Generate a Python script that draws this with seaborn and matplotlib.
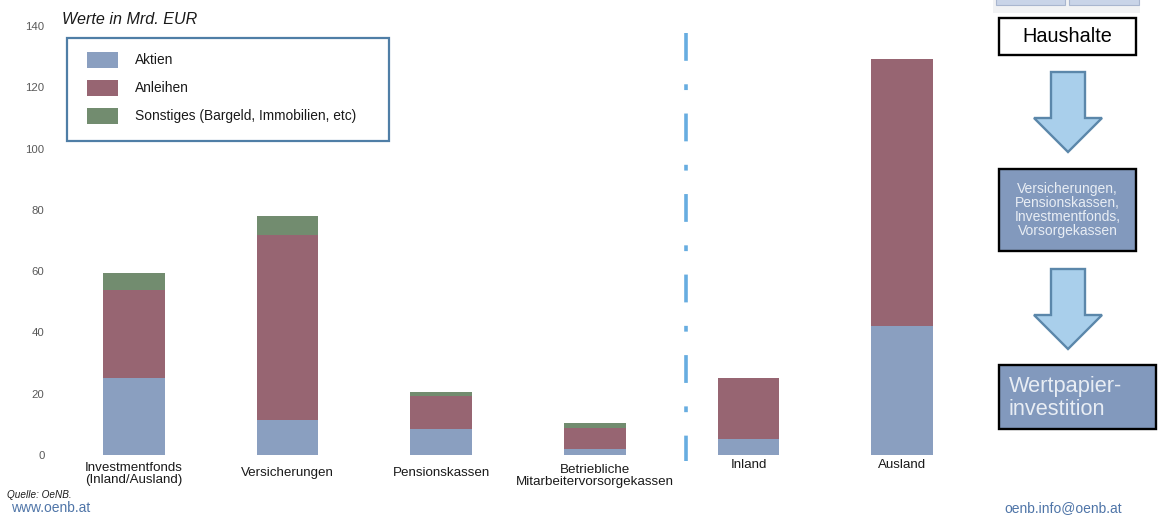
import matplotlib
matplotlib.use("Agg")
import matplotlib.pyplot as plt
from matplotlib.patches import Rectangle, Polygon
import numpy as np
import pandas as pd
import seaborn as sns

categories = ["Investmentfonds\n(Inland/Ausland)", "Versicherungen", "Pensionskassen",
              "Betriebliche\nMitarbeitervorsorgekassen", "Inland", "Ausland"]
aktien = [25.1, 11.4, 8.6, 1.8, 5.2, 42.0]
anleihen = [28.8, 60.4, 10.7, 7.0, 19.8, 87.2]
sonstiges = [5.6, 6.2, 1.4, 1.8, 0.0, 0.0]
series_names = ["Aktien", "Anleihen", "Sonstiges (Bargeld, Immobilien, etc)"]
series_colors = ["#8a9fc0", "#976572", "#728c6f"]
y_ticks = [0, 20, 40, 60, 80, 100, 120, 140]

W, H = 1160, 516
sns.set_theme(style="white")
plt.rcParams["font.family"] = ["Liberation Sans", "DejaVu Sans"]

fig = plt.figure(figsize=(W / 100, H / 100), dpi=100, facecolor="white")


def fx(px):
    return px / W


def fy(py):
    return 1 - py / H


ax = fig.add_axes([fx(57), fy(455), (979 - 57) / W, (455 - 26) / H])
frame = pd.DataFrame({"Kategorie": categories, "Aktien": aktien,
                      "Anleihen": anleihen, "Sonstiges": sonstiges})

# Stacked columns: each layer starts where the previous one ended
bottom = np.zeros(len(categories))
for col, name, colour in zip(["Aktien", "Anleihen", "Sonstiges"], series_names, series_colors):
    sns.barplot(data=frame, x="Kategorie", y=col, color=colour, saturation=1, width=0.403,
                bottom=bottom, ax=ax, label=name, linewidth=0, legend=False)
    bottom = bottom + frame[col].to_numpy()

ax.set_xlim(-0.5, 5.5)
ax.set_ylim(0, 140)
ax.set_xlabel("")
ax.set_ylabel("")
ax.set_yticks(y_ticks)
ax.set_yticklabels([str(v) for v in y_ticks], fontsize=8.2, color="#595959")
ax.tick_params(axis="y", length=0, pad=9)
ax.set_xticks(range(len(categories)))
ax.set_xticklabels([])
ax.tick_params(axis="x", length=0)
for spine in ax.spines.values():
    spine.set_visible(False)
ax.patch.set_alpha(0)

# Category labels sit at slightly different heights under the columns
label_y = [474, 473, 473, 476, 465, 465]
for i, (cat, py) in enumerate(zip(categories, label_y)):
    fig.text(fx(57 + 153.67 * (i + 0.5)), fy(py), cat, ha="center", va="center",
             fontsize=9.6, color="#1a1a1a", linespacing=1.05)

fig.text(fx(62), fy(20), "Werte in Mrd. EUR", fontsize=11.6, style="italic",
         color="#1a1a1a", ha="left", va="center")
fig.text(fx(7), fy(495.5), "Quelle: OeNB.", fontsize=7.2, style="italic",
         color="#1a1a1a", ha="left", va="center")
fig.text(fx(11), fy(508), "www.oenb.at", fontsize=10, color="#4f75a8", ha="left", va="center")
fig.text(fx(1122), fy(508), "oenb.info@oenb.at", fontsize=10, color="#4f75a8",
         ha="right", va="center")


def add_box(x0, y0, x1, y1, face, edge, lw, z=3):
    fig.add_artist(Rectangle((fx(x0), fy(y1)), (x1 - x0) / W, (y1 - y0) / H, transform=fig.transFigure,
                             facecolor=face, edgecolor=edge, linewidth=lw, zorder=z))


# Legend panel
add_box(67, 38, 389, 141, "white", "#4f7ea6", 1.6)
for py, name, colour in zip([60, 88, 116], series_names, series_colors):
    add_box(87, py - 8, 118, py + 8, colour, "none", 0, z=4)
    fig.text(fx(135), fy(py), name, fontsize=9.9, color="#1a1a1a", ha="left", va="center", zorder=5)

# Separator between the sector columns and the regional columns
fig.add_artist(plt.Line2D([fx(685.5)] * 2, [fy(33), fy(461)], transform=fig.transFigure,
                          color="#67ade0", linewidth=2.6, dashes=(7.7, 6.5, 1.6, 6.5)))

# Flow diagram on the right
add_box(999, 18, 1136, 55, "white", "black", 1.7)
fig.text(fx(1067.5), fy(37), "Haushalte", fontsize=14.3, color="black", ha="center", va="center", zorder=5)
add_box(999, 169, 1136, 251, "#8299bd", "black", 1.7)
fig.text(fx(1067.5), fy(210), "Versicherungen,\nPensionskassen,\nInvestmentfonds,\nVorsorgekassen",
         fontsize=10, color="#e8edf4", ha="center", va="center", zorder=5, linespacing=1.03)
add_box(999, 365, 1156, 429, "#8299bd", "black", 1.7)
fig.text(fx(1009), fy(398), "Wertpapier-\ninvestition", fontsize=15.7, color="#e8edf4",
         ha="left", va="center", zorder=5, linespacing=1.08)


def add_arrow(top):
    pts = [(1051, top), (1085, top), (1085, top + 46), (1102, top + 46), (1068, top + 80),
           (1034, top + 46), (1051, top + 46)]
    fig.add_artist(Polygon([(fx(x), fy(y)) for x, y in pts], closed=True, transform=fig.transFigure,
                           facecolor="#a9cfeb", edgecolor="#5b87aa", linewidth=1.7, zorder=3))


add_arrow(72)
add_arrow(269)

# Small tiles cut off at the upper edge
for x0, x1 in [(996, 1065), (1069, 1139)]:
    add_box(x0 - 3, -4, x1 + 1, 13, "#f1f2f4", "none", 0, z=2)
    add_box(x0, -4, x1, 5, "#c9d4e8", "#a9b6cf", 0.8)

fig.savefig("out.png", dpi=100, facecolor="white")
